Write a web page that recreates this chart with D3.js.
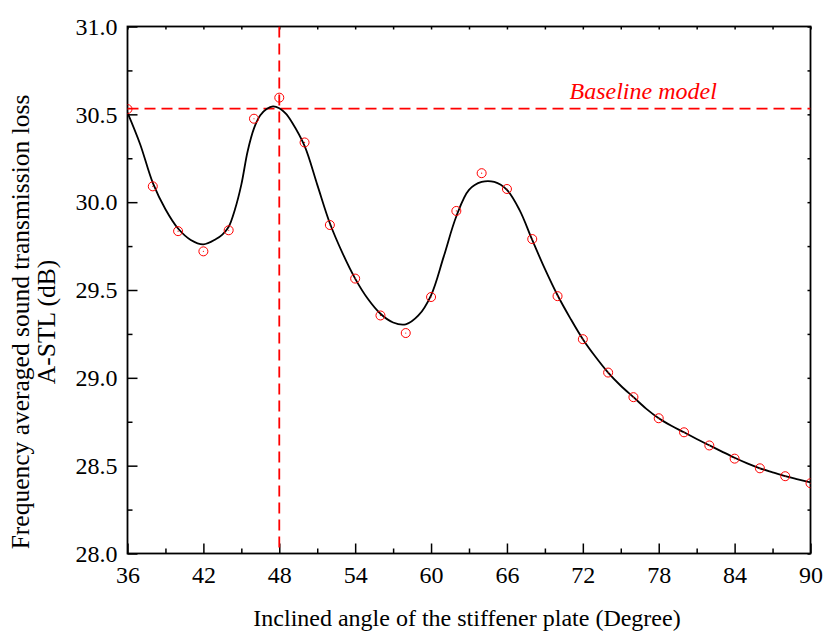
<!DOCTYPE html>
<html>
<head>
<meta charset="utf-8">
<script src="https://cdn.jsdelivr.net/npm/d3@7"></script>
<style>
  html, body { margin: 0; padding: 0; background: #fff; }
  svg { display: block; font-family: "Liberation Serif", "Times New Roman", serif; }
</style>
</head>
<body>
<svg id="chart" width="823" height="631"></svg>
<script>
// Simulated A-STL at each inclined angle (open circles)
const angles = [36, 38, 40, 42, 44, 46, 48, 50, 52, 54, 56, 58, 60, 62,
                64, 66, 68, 70, 72, 74, 76, 78, 80, 82, 84, 86, 88, 90];
const astl = [30.53, 30.09, 29.835, 29.72, 29.84, 30.475, 30.595, 30.34, 29.87, 29.565,
              29.355, 29.255, 29.46, 29.95, 30.165, 30.075, 29.79, 29.465, 29.22, 29.03,
              28.89, 28.77, 28.69, 28.615, 28.54, 28.485, 28.44, 28.40];

// Smoothed fit through the simulated values (solid line)
const fitAngles = [36, 37, 38, 39, 40, 41, 42, 43, 43.5, 44, 44.5, 45, 45.5, 46, 46.5, 47, 47.5,
                   48, 48.5, 49, 50, 51, 52, 53, 54, 55, 56, 57, 58, 59, 60, 61, 62, 63, 64,
                   65, 66, 67, 68, 69, 70, 71, 72, 73, 74, 75, 76, 77, 78, 79, 80, 81, 82,
                   83, 84, 85, 86, 87, 88, 89, 90];
const fitAstl = [30.51, 30.33, 30.11, 29.96, 29.85, 29.785, 29.76, 29.79, 29.815, 29.86,
                 29.96, 30.10, 30.29, 30.42, 30.495, 30.53, 30.545, 30.535, 30.505, 30.455,
                 30.32, 30.10, 29.88, 29.71, 29.565, 29.45, 29.365, 29.315, 29.305, 29.355,
                 29.47, 29.69, 29.92, 30.07, 30.115, 30.115, 30.07, 29.955, 29.785, 29.62,
                 29.47, 29.34, 29.22, 29.12, 29.03, 28.955, 28.89, 28.825, 28.77, 28.727,
                 28.69, 28.652, 28.616, 28.58, 28.545, 28.513, 28.485, 28.462, 28.44, 28.422,
                 28.405];

// Baseline model reference
const baselineAngle = 48;
const baselineAstl = 30.532;
const baselineLabel = "Baseline model";

// Axis ticks
const xTicks = [36, 42, 48, 54, 60, 66, 72, 78, 84, 90];
const xMinor = [39, 45, 51, 57, 63, 69, 75, 81, 87];
const yTicks = [28.0, 28.5, 29.0, 29.5, 30.0, 30.5, 31.0];
const yMinor = [28.25, 28.75, 29.25, 29.75, 30.25, 30.75];

const xTitle = "Inclined angle of the stiffener plate (Degree)";
const yTitle1 = "Frequency averaged sound transmission loss";
const yTitle2 = "A-STL (dB)";

const margin = { left: 127.5, right: 12.5, top: 26.5, bottom: 77.5 };
const W = 823, H = 631;
const iw = W - margin.left - margin.right;
const ih = H - margin.top - margin.bottom;
const RED = "#ff0000";
const SERIF = "Liberation Serif, Times New Roman, serif";

const svg = d3.select("#chart");
const g = svg.append("g").attr("transform", `translate(${margin.left},${margin.top})`);

const x = d3.scaleLinear().domain([36, 90]).range([0, iw]);
const y = d3.scaleLinear().domain([28, 31]).range([ih, 0]);

// Clip marks to the plot frame
svg.append("defs").append("clipPath").attr("id", "plotClip")
  .append("rect").attr("x", 0).attr("y", 0).attr("width", iw).attr("height", ih);

const axes = g.append("g").attr("class", "axes");

// Bottom axis: major ticks with labels, minor ticks without
axes.append("g").attr("transform", `translate(0,${ih})`)
  .call(d3.axisBottom(x).tickValues(xTicks).tickFormat(d3.format("d"))
        .tickSizeInner(-10).tickSizeOuter(0).tickPadding(12));
axes.append("g").attr("transform", `translate(0,${ih})`)
  .call(d3.axisBottom(x).tickValues(xMinor).tickFormat("").tickSizeInner(-5).tickSizeOuter(0));

// Left axis
axes.append("g")
  .call(d3.axisLeft(y).tickValues(yTicks).tickFormat(d3.format(".1f"))
        .tickSizeInner(-10).tickSizeOuter(0).tickPadding(10));
axes.append("g")
  .call(d3.axisLeft(y).tickValues(yMinor).tickFormat("").tickSizeInner(-5).tickSizeOuter(0));

// Top and right axes: short inward ticks only
axes.append("g")
  .call(d3.axisTop(x).tickValues(xTicks.concat(xMinor)).tickFormat("").tickSizeInner(-3).tickSizeOuter(0));
axes.append("g").attr("transform", `translate(${iw},0)`)
  .call(d3.axisRight(y).tickValues(yTicks.concat(yMinor)).tickFormat("").tickSizeInner(-3).tickSizeOuter(0));

axes.selectAll("g").attr("font-family", SERIF).attr("font-size", 24);
axes.selectAll(".domain").remove();
axes.selectAll(".tick line").attr("stroke", "#000").attr("stroke-width", 1.5);
axes.selectAll(".tick text").attr("fill", "#000");

// Frame
g.append("rect").attr("x", 0).attr("y", 0).attr("width", iw).attr("height", ih)
  .attr("fill", "none").attr("stroke", "#000").attr("stroke-width", 1.8);

const plot = g.append("g").attr("clip-path", "url(#plotClip)");

// Baseline reference lines
plot.append("line")
  .attr("x1", x(36)).attr("x2", x(90))
  .attr("y1", y(baselineAstl)).attr("y2", y(baselineAstl))
  .attr("stroke", RED).attr("stroke-width", 1.8).attr("stroke-dasharray", "11,6");
plot.append("line")
  .attr("x1", x(baselineAngle)).attr("x2", x(baselineAngle))
  .attr("y1", y(31)).attr("y2", y(28))
  .attr("stroke", RED).attr("stroke-width", 1.8).attr("stroke-dasharray", "11,6");

// Fitted curve
const fitData = fitAngles.map((a, i) => [a, fitAstl[i]]);
plot.append("path")
  .datum(fitData)
  .attr("d", d3.line().x(d => x(d[0])).y(d => y(d[1])).curve(d3.curveCatmullRom.alpha(0.5)))
  .attr("fill", "none").attr("stroke", "#000").attr("stroke-width", 1.8);

// Simulated points
const pts = angles.map((a, i) => [a, astl[i]]);
const pg = plot.append("g");
pg.selectAll("circle.pt").data(pts).join("circle").attr("class", "pt")
  .attr("cx", d => x(d[0])).attr("cy", d => y(d[1])).attr("r", 4.5)
  .attr("fill", "none").attr("stroke", RED).attr("stroke-width", 1);
pg.selectAll("circle.ctr").data(pts).join("circle").attr("class", "ctr")
  .attr("cx", d => x(d[0])).attr("cy", d => y(d[1])).attr("r", 0.6)
  .attr("fill", RED);

// Baseline label
g.append("text")
  .attr("x", 569.5 - margin.left).attr("y", 99 - margin.top)
  .attr("fill", RED).attr("font-family", SERIF).style("font-style", "italic").style("font-size", "24px")
  .text(baselineLabel);

// Axis titles
svg.append("text")
  .attr("x", 467).attr("y", 626)
  .attr("text-anchor", "middle").attr("font-family", SERIF).style("font-size", "24px").attr("fill", "#000")
  .text(xTitle);

const yt = svg.append("g").attr("transform", "translate(0,322) rotate(-90)")
  .attr("font-family", SERIF);
yt.append("text").attr("x", 0).attr("y", 29)
  .attr("text-anchor", "middle").style("font-size", "25.5px").attr("fill", "#000")
  .text(yTitle1);
yt.append("text").attr("x", 0).attr("y", 55)
  .attr("text-anchor", "middle").style("font-size", "25.5px").attr("fill", "#000")
  .text(yTitle2);
</script>
</body>
</html>
